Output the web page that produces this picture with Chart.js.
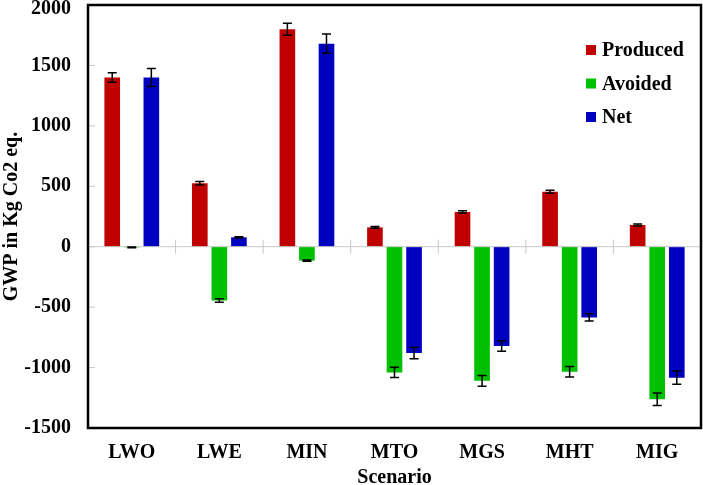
<!DOCTYPE html>
<html>
<head>
<meta charset="utf-8">
<script src="https://cdn.jsdelivr.net/npm/chart.js@4/dist/chart.umd.min.js"></script>
<style>
  html, body { margin: 0; padding: 0; background: #fff; }
  #wrap { width: 703px; height: 485px; }
</style>
</head>
<body>
<div id="wrap"><canvas id="gwpChart" width="703" height="485"></canvas></div>
<script>
var categories = ['LWO', 'LWE', 'MIN', 'MTO', 'MGS', 'MHT', 'MIG'];
var produced = [1400, 525, 1800, 160, 288, 455, 180];
var avoided = [-5, -445, -115, -1040, -1110, -1035, -1262];
var net = [1400, 78, 1680, -880, -822, -585, -1084];
var producedErr = [40, 15, 50, 8, 10, 12, 8];
var avoidedErr = [3, 15, 5, 42, 45, 43, 52];
var netErr = [75, 5, 80, 48, 43, 30, 55];
var yTicks = [-1500, -1000, -500, 0, 500, 1000, 1500, 2000];

var serif = '"Liberation Serif", "Times New Roman", serif';

// error bars, zero-line marks, y labels, frame and legend drawn on top
var extras = {
    id: 'extras',
    afterDatasetsDraw: function (chart) {
        var c = chart.ctx, x = chart.scales.x, y = chart.scales.y, area = chart.chartArea;
        c.save();
        // zero line and category separators
        var y0 = y.getPixelForValue(0);
        c.strokeStyle = '#c8c8c8';
        c.lineWidth = 1;
        c.beginPath();
        c.moveTo(area.left, y0); c.lineTo(area.right, y0);
        for (var i = 0; i < categories.length - 1; i++) {
            var bx = (x.getPixelForValue(i) + x.getPixelForValue(i + 1)) / 2;
            c.moveTo(bx, y0 - 7); c.lineTo(bx, y0 + 7);
        }
        yTicks.forEach(function (t) {
            var ty = y.getPixelForValue(t);
            c.moveTo(area.left, ty); c.lineTo(area.left + 7, ty);
        });
        c.stroke();

        // y tick labels (top one kept inside the canvas)
        c.fillStyle = '#000';
        c.font = 'bold 20px ' + serif;
        c.textAlign = 'right';
        c.textBaseline = 'middle';
        yTicks.forEach(function (t) {
            c.fillText(String(t), area.left - 17, Math.max(y.getPixelForValue(t), 9));
        });

        // error bars
        c.strokeStyle = '#000';
        c.lineWidth = 1.5;
        chart.data.datasets.forEach(function (ds, di) {
            var meta = chart.getDatasetMeta(di);
            meta.data.forEach(function (bar, i) {
                var v = ds.data[i], e = ds.errors[i];
                var top = y.getPixelForValue(v + e), bot = y.getPixelForValue(v - e);
                c.beginPath();
                c.moveTo(bar.x, top); c.lineTo(bar.x, bot);
                c.moveTo(bar.x - 4.5, top); c.lineTo(bar.x + 4.5, top);
                c.moveTo(bar.x - 4.5, bot); c.lineTo(bar.x + 4.5, bot);
                c.stroke();
            });
        });

        // frame
        c.lineWidth = 2.5;
        c.strokeRect(area.left, area.top, area.right - area.left, area.bottom - area.top);

        // legend
        c.textAlign = 'left';
        chart.data.datasets.forEach(function (ds, di) {
            var ly = 50 + di * 33.5;
            c.fillStyle = ds.backgroundColor;
            c.fillRect(586, ly - 5, 10, 10);
            c.fillStyle = '#000';
            c.fillText(ds.label, 602, ly + 1);
        });
        c.restore();
    }
};

var ctx = document.getElementById('gwpChart').getContext('2d');
var gwpChart = new Chart(ctx, {
    type: 'bar',
    data: {
        labels: categories,
        datasets: [
            { label: 'Produced', data: produced, errors: producedErr, backgroundColor: '#c00000' },
            { label: 'Avoided', data: avoided, errors: avoidedErr, backgroundColor: '#00c000' },
            { label: 'Net', data: net, errors: netErr, backgroundColor: '#0000c0' }
        ]
    },
    options: {
        responsive: false,
        animation: false,
        categoryPercentage: 0.67,
        barPercentage: 0.8,
        layout: { padding: { top: 5, right: 2, left: 0, bottom: 0 } },
        plugins: {
            legend: { display: false },
            tooltip: { enabled: false }
        },
        scales: {
            x: {
                grid: { display: false },
                border: { display: false },
                ticks: { color: '#000', font: { family: serif, size: 20, weight: 'bold' }, padding: 5 },
                title: { display: true, text: 'Scenario', color: '#000', font: { family: serif, size: 20, weight: 'bold' }, padding: { top: 0, bottom: -5 } },
                afterFit: function (s) { s.height = 57; s.paddingLeft = 0; s.paddingRight = 0; }
            },
            y: {
                min: -1500,
                max: 2000,
                grid: { display: false },
                border: { display: false },
                ticks: { display: false, stepSize: 500 },
                title: { display: true, text: 'GWP in Kg Co2 eq.', color: '#000', font: { family: serif, size: 20, weight: 'bold' }, padding: { top: 0, bottom: 0 } },
                afterFit: function (s) { s.width = 88; s.paddingTop = 0; s.paddingBottom = 0; }
            }
        }
    },
    plugins: [extras]
});
</script>
</body>
</html>
